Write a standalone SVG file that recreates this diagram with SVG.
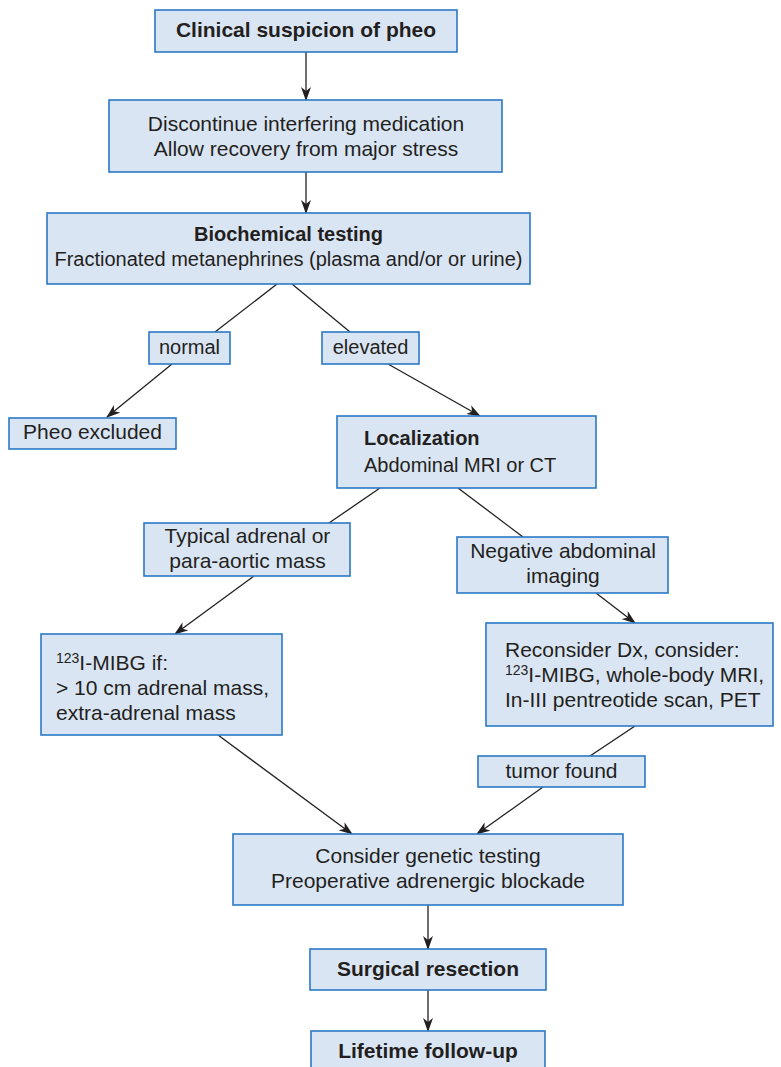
<svg xmlns="http://www.w3.org/2000/svg" width="781" height="1067" viewBox="0 0 781 1067">
<style>
.box{fill:#dae5f4;stroke:#2b78c6;stroke-width:1.6}
text{font-family:"Liberation Sans",Arial,sans-serif;font-size:21px;fill:#231f20}
.b{font-weight:bold}
.c{text-anchor:middle}
.ln{stroke:#231f20;stroke-width:1.3;fill:none}
.ar{marker-end:url(#ah)}
</style>
<defs>
<marker id="ah" viewBox="0 0 14 10" refX="13" refY="5" markerWidth="14" markerHeight="10" markerUnits="userSpaceOnUse" orient="auto">
<path d="M0,0 L14,5 L0,10 L4,5 z" fill="#231f20"/>
</marker>
</defs>
<rect width="781" height="1067" fill="#ffffff"/>
<g id="connectors">
<line class="ln ar" x1="306" y1="52" x2="306" y2="100"/>
<line class="ln ar" x1="306" y1="172" x2="306" y2="213"/>
<line class="ln" x1="277" y1="284" x2="215" y2="332"/>
<line class="ln" x1="292" y1="284" x2="350" y2="332"/>
<line class="ln ar" x1="172" y1="364" x2="107" y2="417"/>
<line class="ln ar" x1="388" y1="364" x2="480" y2="416"/>
<line class="ln" x1="380" y1="488" x2="329" y2="523"/>
<line class="ln" x1="458" y1="488" x2="523" y2="537"/>
<line class="ln ar" x1="254" y1="576" x2="175" y2="634"/>
<line class="ln ar" x1="596" y1="593" x2="635" y2="623"/>
<line class="ln ar" x1="218" y1="735" x2="352" y2="834"/>
<line class="ln" x1="635" y1="726" x2="590" y2="756"/>
<line class="ln ar" x1="543" y1="787" x2="477" y2="834"/>
<line class="ln ar" x1="428" y1="905" x2="428" y2="949"/>
<line class="ln ar" x1="428" y1="990" x2="428" y2="1031"/>
</g>
<g id="n1"><rect class="box" x="155" y="10" width="302" height="42"/><text class="b c" x="306" y="37">Clinical suspicion of pheo</text></g>
<g id="n2"><rect class="box" x="109" y="100" width="393" height="72"/><text class="c" x="306" y="131">Discontinue interfering medication</text><text class="c" x="306" y="156">Allow recovery from major stress</text></g>
<g id="n3"><rect class="box" x="47" y="213" width="483" height="71"/><text class="b c" x="288.5" y="241" style="font-size:20px">Biochemical testing</text><text class="c" x="288.5" y="266" style="font-size:20px">Fractionated metanephrines (plasma and/or or urine)</text></g>
<g id="normal"><rect class="box" x="149" y="332" width="81" height="32"/><text class="c" x="189.5" y="354" style="font-size:20px">normal</text></g>
<g id="elevated"><rect class="box" x="322" y="332" width="97" height="32"/><text class="c" x="370.5" y="354" style="font-size:20px">elevated</text></g>
<g id="excluded"><rect class="box" x="9" y="418" width="167" height="31"/><text class="c" x="92.5" y="439">Pheo excluded</text></g>
<g id="localization"><rect class="box" x="337" y="416" width="259" height="72"/><text class="b" x="364" y="445" style="font-size:20px">Localization</text><text x="364" y="472" style="font-size:20px">Abdominal MRI or CT</text></g>
<g id="typical"><rect class="box" x="144" y="523" width="206" height="53"/><text class="c" x="247.5" y="543">Typical adrenal or</text><text class="c" x="247.5" y="568">para-aortic mass</text></g>
<g id="negative"><rect class="box" x="457" y="537" width="211" height="56"/><text class="c" x="563" y="558">Negative abdominal</text><text class="c" x="563" y="583">imaging</text></g>
<g id="mibg"><rect class="box" x="41" y="634" width="241" height="101"/><text x="56" y="670"><tspan style="font-size:14px" dy="-7">123</tspan><tspan dy="7">I-MIBG if:</tspan></text><text x="56" y="695">&gt; 10 cm adrenal mass,</text><text x="56" y="720">extra-adrenal mass</text></g>
<g id="reconsider"><rect class="box" x="486" y="623" width="287" height="103"/><text x="505" y="657">Reconsider Dx, consider:</text><text x="505" y="682"><tspan style="font-size:14px" dy="-7">123</tspan><tspan dy="7">I-MIBG, whole-body MRI,</tspan></text><text x="505" y="707">In-III pentreotide scan, PET</text></g>
<g id="tumor"><rect class="box" x="478" y="756" width="167" height="31"/><text class="c" x="561.5" y="778">tumor found</text></g>
<g id="consider"><rect class="box" x="233" y="834" width="390" height="71"/><text class="c" x="428" y="863">Consider genetic testing</text><text class="c" x="428" y="888">Preoperative adrenergic blockade</text></g>
<g id="surgical"><rect class="box" x="310" y="949" width="236" height="41"/><text class="b c" x="428" y="976">Surgical resection</text></g>
<g id="lifetime"><rect class="box" x="311" y="1031" width="234" height="45"/><text class="b c" x="428" y="1058">Lifetime follow-up</text></g>
</svg>
